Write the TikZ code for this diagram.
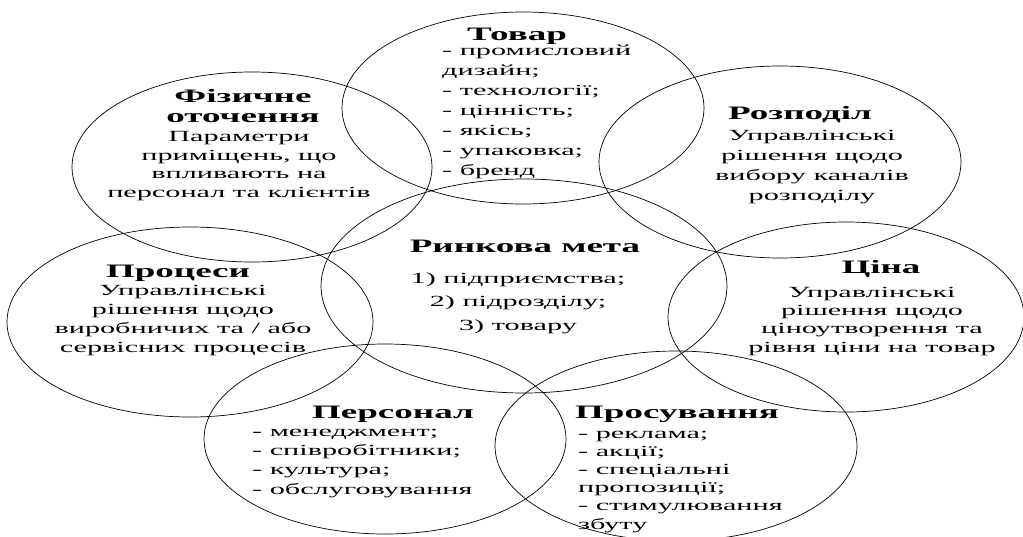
\documentclass[tikz,border=0pt]{standalone}
\usepackage{fontspec}
\setmainfont{Liberation Serif}[FakeStretch=1.95]
\tikzset{circ/.style = {draw=black, line width=0.7pt},
         heading/.style = {font=\fontsize{19}{20}\selectfont\bfseries, inner sep=0pt, align=center, anchor=base},
         bodytext/.style = {font=\fontsize{15.5}{19}\selectfont, inner sep=0pt, align=center, anchor=base},
         itemlist/.style = {bodytext, align=left, anchor=base west}}

\begin{document}
\begin{tikzpicture}[x=1pt, y=-1pt]
      \useasboundingbox (0, 0) rectangle (1023, 536);

      \draw [circ] (523, 108) ellipse [x radius=181, y radius=96];
      \draw [circ] (252, 167) ellipse [x radius=180, y radius=95];
      \draw [circ] (780, 162) ellipse [x radius=181, y radius=96];
      \draw [circ] (524, 286) ellipse [x radius=203, y radius=107];
      \draw [circ] (190, 322) ellipse [x radius=183, y radius=95];
      \draw [circ] (846, 317) ellipse [x radius=178, y radius=95];
      \draw [circ] (385, 439) ellipse [x radius=181, y radius=95];
      \draw [circ] (676, 446) ellipse [x radius=181, y radius=95];

      % multi-line nodes sit on the baseline of their last line
      \node [heading] (tovar) at (517, 40) {Товар};
      \node [itemlist, font=\fontsize{15.5}{20}\selectfont] (tovar-list) at (442, 175)
            {- промисловий\\дизайн;\\- технології;\\- цінність;\\- якісь;\\- упаковка;\\- бренд};

      \node [heading] (fizychne) at (243, 122) {Фізичне\\оточення};
      \node [bodytext, font=\fontsize{15.5}{18.5}\selectfont] (fizychne-text) at (239, 197)
            {Параметри\\приміщень, що\\впливають на\\персонал та клієнтів};

      \node [heading] (rozpodil) at (800, 119) {Розподіл};
      \node [bodytext, font=\fontsize{15.5}{20}\selectfont] (rozpodil-text) at (812, 200)
            {Управлінські\\рішення щодо\\вибору каналів\\розподілу};

      \node [heading] (meta) at (525, 252) {Ринкова мета};
      \node [bodytext, font=\fontsize{15.5}{23.5}\selectfont] (meta-text) at (518, 330)
            {1) підприємства;\\2) підрозділу;\\3) товару};

      \node [heading] (procesy) at (178, 277) {Процеси};
      \node [bodytext] (procesy-text) at (183, 352)
            {Управлінські\\рішення щодо\\виробничих та / або\\сервісних процесів};

      \node [heading] (cina) at (881, 273) {Ціна};
      \node [bodytext, font=\fontsize{15.5}{18.3}\selectfont] (cina-text) at (872, 352)
            {Управлінські\\рішення щодо\\ціноутворення та\\рівня ціни на товар};

      \node [heading] (personal) at (393, 418) {Персонал};
      \node [itemlist, font=\fontsize{15.5}{19.3}\selectfont] (personal-list) at (252, 494)
            {- менеджмент;\\- співробітники;\\- культура;\\- обслуговування};

      \node [heading] (prosuvannia) at (677, 418) {Просування};
      \node [itemlist, font=\fontsize{15.5}{18.2}\selectfont] (prosuvannia-list) at (578, 529)
            {- реклама;\\- акції;\\- спеціальні\\пропозиції;\\- стимулювання\\збуту};
    \end{tikzpicture}
\end{document}
